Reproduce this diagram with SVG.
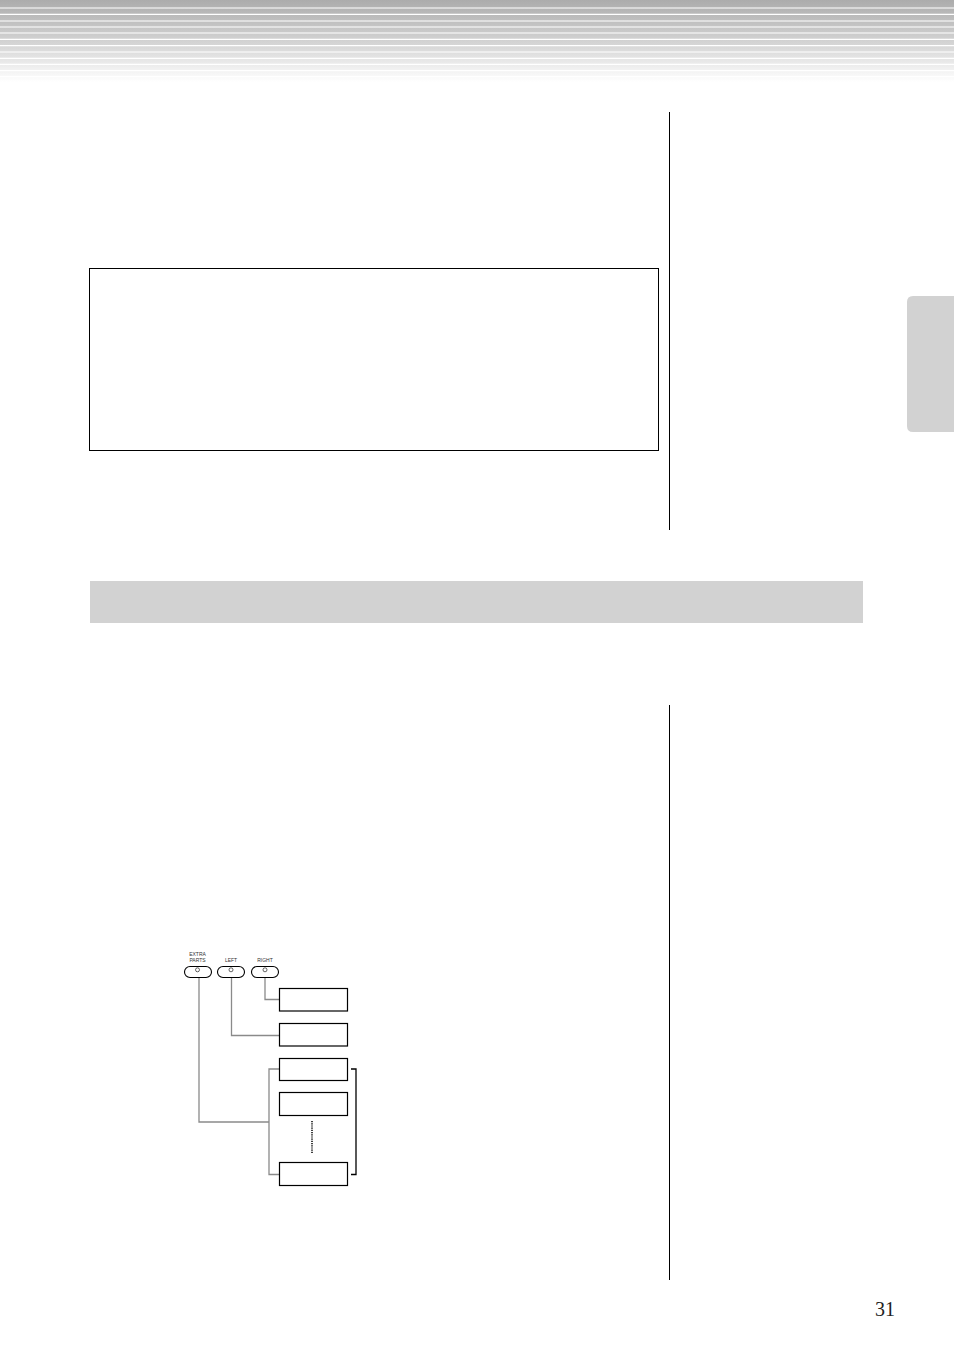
<svg xmlns="http://www.w3.org/2000/svg" width="954" height="1351" viewBox="0 0 954 1351">
<defs>
<linearGradient id="hdr" x1="0" y1="0" x2="0" y2="1">
<stop offset="0" stop-color="#acacac"/>
<stop offset="0.55" stop-color="#d6d6d6"/>
<stop offset="1" stop-color="#ffffff"/>
</linearGradient>
<style>
.wl{stroke:#ffffff;stroke-width:1.2}
.rule{stroke:#000;stroke-width:1}
.box{fill:#fff;stroke:#000;stroke-width:1.2}
.btn{fill:#fff;stroke:#000;stroke-width:1.1}
.led{fill:#fff;stroke:#000;stroke-width:0.6}
.lbl{font-family:"Liberation Sans",Arial,sans-serif;font-size:5px;fill:#333;text-anchor:middle}
.conn{fill:none;stroke:#8a8a8a;stroke-width:1.3}
</style>
</defs>
<rect width="954" height="1351" fill="#fff"/>
<g id="header">
<rect x="0" y="0" width="954" height="82" fill="url(#hdr)"/>
<line class="wl" x1="0" y1="8" x2="954" y2="8"/>
<line class="wl" x1="0" y1="14.3" x2="954" y2="14.3"/>
<line class="wl" x1="0" y1="21" x2="954" y2="21"/>
<line class="wl" x1="0" y1="27" x2="954" y2="27"/>
<line class="wl" x1="0" y1="33" x2="954" y2="33"/>
<line class="wl" x1="0" y1="39.3" x2="954" y2="39.3"/>
<line class="wl" x1="0" y1="45.7" x2="954" y2="45.7"/>
<line class="wl" x1="0" y1="52" x2="954" y2="52"/>
<line class="wl" x1="0" y1="58.3" x2="954" y2="58.3"/>
<line class="wl" x1="0" y1="64.3" x2="954" y2="64.3"/>
<line class="wl" x1="0" y1="70.7" x2="954" y2="70.7"/>
<line class="wl" x1="0" y1="76.7" x2="954" y2="76.7"/>
</g>
<g id="page">
<line class="rule" x1="669.5" y1="112" x2="669.5" y2="530"/>
<line class="rule" x1="669.5" y1="705" x2="669.5" y2="1280"/>
<rect x="89.5" y="268.5" width="569" height="182" fill="none" stroke="#000" stroke-width="1"/>
<rect x="90" y="581" width="773" height="42" fill="#d2d2d2"/>
<path d="M954,296 H913 Q907,296 907,302 V426 Q907,432 913,432 H954 Z" fill="#d2d2d2"/>
<text x="885" y="1316" font-family="'Liberation Serif','Times New Roman',serif" font-size="20" fill="#222" text-anchor="middle">31</text>
</g>
<g id="connectors">
<polyline class="conn" points="265,978 265,999.5 279,999.5"/>
<polyline class="conn" points="231.5,978 231.5,1035.5 279,1035.5"/>
<polyline class="conn" points="199,978 199,1122 269,1122"/>
<polyline class="conn" points="279,1069 269,1069 269,1174.5 279,1174.5"/>
<polyline fill="none" stroke="#000" stroke-width="1.3" points="351,1069 356,1069 356,1174.5 351,1174.5"/>
<line x1="312" y1="1121" x2="312" y2="1154" stroke="#000" stroke-width="1.5" stroke-dasharray="1.2,1"/>
</g>
<g id="btn-extra">
<text class="lbl" x="197.5" y="955.5">EXTRA</text>
<text class="lbl" x="197.5" y="961.5">PARTS</text>
<rect class="btn" x="184.5" y="966.5" width="27" height="11" rx="5.5"/>
<circle class="led" cx="197.5" cy="969.8" r="2"/>
</g>
<g id="btn-left">
<text class="lbl" x="231" y="961.5">LEFT</text>
<rect class="btn" x="217.5" y="966.5" width="27" height="11" rx="5.5"/>
<circle class="led" cx="231" cy="969.8" r="2"/>
</g>
<g id="btn-right">
<text class="lbl" x="265" y="961.5">RIGHT</text>
<rect class="btn" x="251.5" y="966.5" width="27" height="11" rx="5.5"/>
<circle class="led" cx="265" cy="969.8" r="2"/>
</g>
<g id="box-1"><rect class="box" x="279.5" y="988.5" width="68" height="22.5"/></g>
<g id="box-2"><rect class="box" x="279.5" y="1023.5" width="68" height="22.5"/></g>
<g id="box-3"><rect class="box" x="279.5" y="1058.5" width="68" height="22"/></g>
<g id="box-4"><rect class="box" x="279.5" y="1092.5" width="68" height="23"/></g>
<g id="box-5"><rect class="box" x="279.5" y="1162.5" width="68" height="23"/></g>
</svg>
